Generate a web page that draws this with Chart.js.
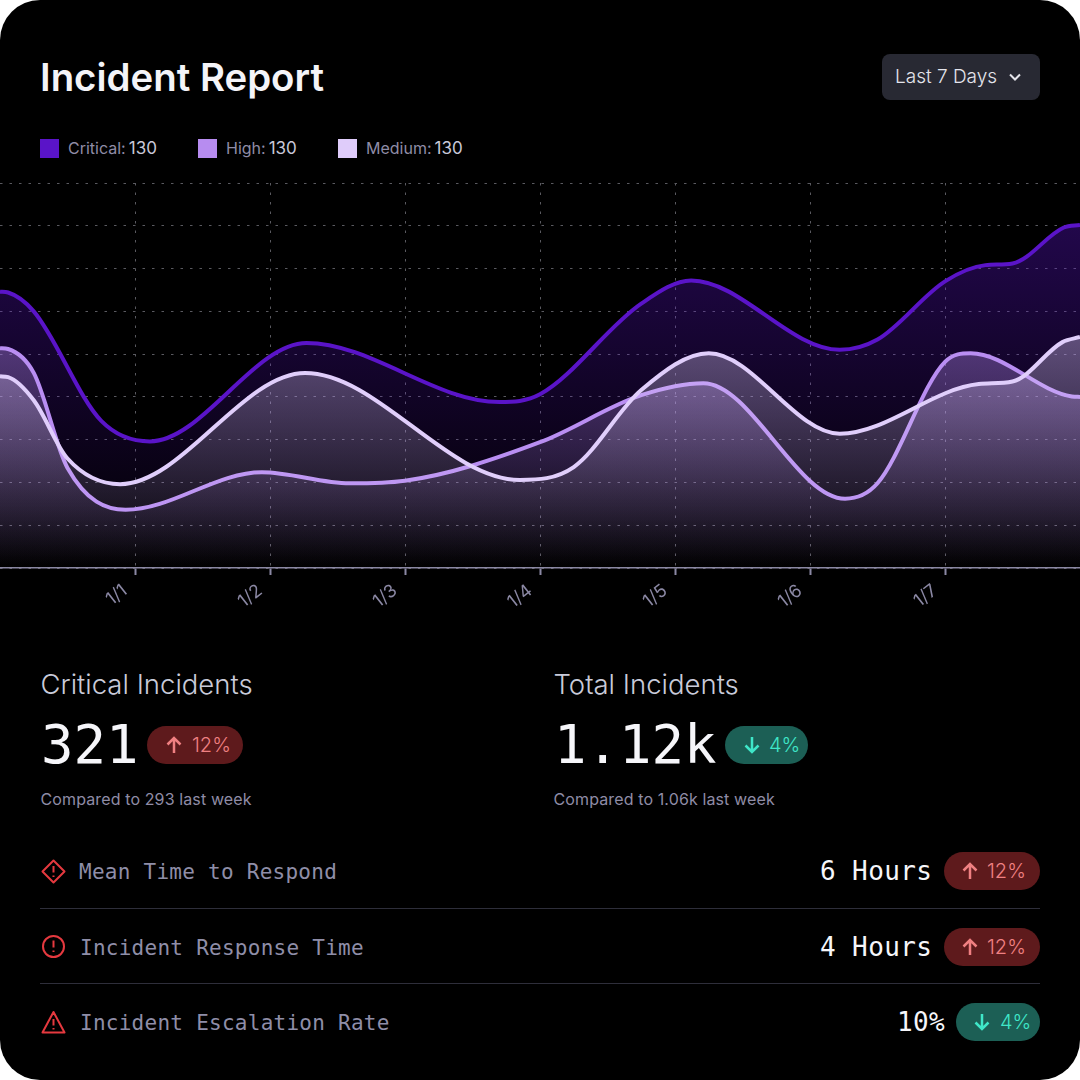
<!DOCTYPE html>
<html>
<head>
<meta charset="utf-8">
<title>Incident Report</title>
<script src="https://cdn.jsdelivr.net/npm/chart.js@4/dist/chart.umd.min.js"></script>
<style>
html,body{margin:0;padding:0;background:#fff;}
#card{position:absolute;left:0;top:0;width:1080px;height:1080px;background:#000;border-radius:40px;overflow:hidden;font-family:Inter,sans-serif;color:#fff;}
#card div{position:absolute;white-space:nowrap;}
#wrap{left:0;top:170px;width:1080px;height:460px;}
.title{left:40px;top:54px;font-size:38.4px;line-height:46px;font-weight:600;color:#f4f4f8;}
.drop{left:882px;top:54px;width:158px;height:46px;background:#282933;border-radius:8px;}
.drop span{position:absolute;left:13px;top:0;line-height:46px;font-size:19px;font-weight:300;color:#e4e4ec;}
.drop svg{position:absolute;left:125px;top:15px;}
.sq{top:139px;width:19px;height:19px;}
.leg{top:136px;font-size:16px;line-height:24px;color:#8f8ca6;}
.leg b{font-weight:400;font-size:17px;color:#c9c8d8;margin-left:3px;}
.head{top:666px;font-size:27.5px;line-height:36px;font-weight:300;color:#c9cbda;}
.big{top:712px;font-family:"DejaVu Sans Mono",monospace;font-size:54px;line-height:66px;color:#f6f6fa;}
.sub{top:787px;font-size:16px;line-height:24px;letter-spacing:.12px;color:#8f8ca6;}
.badge{height:38px;border-radius:19px;font-size:20px;font-weight:300;line-height:38px;}
.badge svg{position:absolute;top:9px;}
.badge span{position:absolute;top:0;}
.up{background:#5e1a1c;color:#f08082;}
.down{background:#1c5f55;color:#3fe6c8;}
.rule{left:40px;width:1000px;height:1px;background:#2e2e3a;}
.rowname{left:79px;font-family:"DejaVu Sans Mono",monospace;font-size:21px;line-height:30px;letter-spacing:.26px;color:#8f8ea8;}
.rowval{font-family:"DejaVu Sans Mono",monospace;font-size:26px;line-height:34px;letter-spacing:.4px;color:#f6f6fa;}
.icon{left:41px;}
</style>
</head>
<body>
<div id="card">
  <div class="title">Incident Report</div>
  <div class="drop"><span>Last 7 Days</span>
    <svg width="16" height="16" viewBox="0 0 16 16"><path d="M3 5.5 L8 10.5 L13 5.5" fill="none" stroke="#e4e4ea" stroke-width="2"/></svg>
  </div>

  <div id="legend"></div>
  <div id="wrap"><canvas id="myChart" width="1080" height="460"></canvas></div>

  <div class="head" style="left:40.5px">Critical Incidents</div>
  <div class="big" style="left:41px">321</div>
  <div class="badge up" style="left:147px;top:726px;width:96px">
    <svg width="20" height="20" viewBox="0 0 20 20" style="left:17px"><path d="M10 18 V3 M3.5 9.5 L10 3 L16.5 9.5" fill="none" stroke="#f08082" stroke-width="2.5"/></svg>
    <span style="left:45px">12%</span>
  </div>
  <div class="sub" style="left:40.5px">Compared to 293 last week</div>

  <div class="head" style="left:553.5px">Total Incidents</div>
  <div class="big" style="left:554px">1.12k</div>
  <div class="badge down" style="left:725px;top:726px;width:83px">
    <svg width="20" height="20" viewBox="0 0 20 20" style="left:17px"><path d="M10 2 V17 M3.5 10.5 L10 17 L16.5 10.5" fill="none" stroke="#3fe6c8" stroke-width="2.5"/></svg>
    <span style="left:44px">4%</span>
  </div>
  <div class="sub" style="left:553.5px">Compared to 1.06k last week</div>

  <svg class="icon" style="position:absolute;top:859px" width="25" height="25" viewBox="0 0 25 25"><path d="M12.5 1.5 L23.5 12.5 L12.5 23.5 L1.5 12.5 Z M12.5 7 V13.5 M12.5 16.5 V18" fill="none" stroke="#e5393f" stroke-width="2" stroke-linejoin="round"/></svg>
  <div class="rowname" style="top:857px">Mean Time to Respond</div>
  <div class="rowval" style="left:820px;top:854px">6 Hours</div>
  <div class="badge up" style="left:944px;top:852px;width:96px">
    <svg width="20" height="20" viewBox="0 0 20 20" style="left:16px"><path d="M10 18 V3 M3.5 9.5 L10 3 L16.5 9.5" fill="none" stroke="#f08082" stroke-width="2.5"/></svg>
    <span style="left:43px">12%</span>
  </div>
  <div class="rule" style="top:908px"></div>

  <svg class="icon" style="position:absolute;top:934px" width="25" height="25" viewBox="0 0 25 25"><circle cx="12.5" cy="12.5" r="10.5" fill="none" stroke="#e5393f" stroke-width="2"/><path d="M12.5 6.5 V13.5 M12.5 16.5 V18" fill="none" stroke="#e5393f" stroke-width="2"/></svg>
  <div class="rowname" style="top:933px;left:80px">Incident Response Time</div>
  <div class="rowval" style="left:820px;top:930px">4 Hours</div>
  <div class="badge up" style="left:944px;top:928px;width:96px">
    <svg width="20" height="20" viewBox="0 0 20 20" style="left:16px"><path d="M10 18 V3 M3.5 9.5 L10 3 L16.5 9.5" fill="none" stroke="#f08082" stroke-width="2.5"/></svg>
    <span style="left:43px">12%</span>
  </div>
  <div class="rule" style="top:983px"></div>

  <svg class="icon" style="position:absolute;top:1010px" width="25" height="25" viewBox="0 0 25 25"><path d="M12.5 2 L23.5 22.5 H1.5 Z M12.5 9 V15.5 M12.5 18 V19.5" fill="none" stroke="#e5393f" stroke-width="2" stroke-linejoin="round"/></svg>
  <div class="rowname" style="top:1008px;left:80px">Incident Escalation Rate</div>
  <div class="rowval" style="left:897px;top:1005px">10%</div>
  <div class="badge down" style="left:956px;top:1003px;width:84px">
    <svg width="20" height="20" viewBox="0 0 20 20" style="left:16px"><path d="M10 2 V17 M3.5 10.5 L10 17 L16.5 10.5" fill="none" stroke="#3fe6c8" stroke-width="2.5"/></svg>
    <span style="left:44px">4%</span>
  </div>
</div>

<script>
const tickLabels = ['','1/1','1/2','1/3','1/4','1/5','1/6','1/7',''];

const criticalDays = [0,0.06,0.25,0.75,1.11,2.27,3.7,4,4.75,5.12,6.22,6.5,7,7.3,7.5,7.88,8];
const critical     = [323,322,300,172,148,263,194,203,309,336,255,267,335,354,356,398,401];

const highDays = [0,0.06,0.25,0.5,0.93,1.94,2.59,3,4,4.75,5.21,6.26,6.5,7,7.19,7.94,8];
const high     = [257,256,228,117,68,112,99,102,147,202,216,81,99,241,251,200.5,200];

const mediumDays = [0,0.06,0.25,0.5,0.89,2.26,3.85,4.25,4.75,5.25,6.22,7.25,7.5,7.87,8];
const medium     = [224,223,196,128,98,228,103,118,208,251,157,215,218,264,270];

const legendNames  = ['Critical','High','Medium'];
const legendValues = [130,130,130];
const legendColors = ['#5a14c8','#b78cf0','#dfccfa'];
const legendSquareX = [40,198,338];

// legend
let legendHtml = '';
legendNames.forEach((name,i)=>{
  legendHtml += '<div class="sq" style="left:'+legendSquareX[i]+'px;background:'+legendColors[i]+'"></div>';
  legendHtml += '<div class="leg" style="left:'+(legendSquareX[i]+28)+'px">'+name+':<b>'+legendValues[i]+'</b></div>';
});
document.getElementById('legend').innerHTML = legendHtml;

function fade(r,g,b,a) {
  return function(context) {
    const area = context.chart.chartArea;
    if (!area) return 'transparent';
    const grad = context.chart.ctx.createLinearGradient(0,area.top,0,area.bottom);
    grad.addColorStop(0,'rgba('+r+','+g+','+b+','+a+')');
    grad.addColorStop(1,'rgba('+r+','+g+','+b+',0)');
    return grad;
  };
}

function series(days,values) {
  return values.map((v,i)=>({x:days[i],y:v}));
}

const gridDash = [2.5,7];
const gridColor = '#5a5a60';

new Chart(document.getElementById('myChart').getContext('2d'), {
  type:'line',
  data:{
    datasets:[
      {label:'Critical',data:series(criticalDays,critical),borderColor:'#5a14c8',backgroundColor:fade(90,20,200,0.42),order:3},
      {label:'High',data:series(highDays,high),borderColor:'#b98ef2',backgroundColor:fade(183,140,240,0.65),order:2},
      {label:'Medium',data:series(mediumDays,medium),borderColor:'#e0cefb',backgroundColor:fade(224,208,250,0.6),order:1}
    ]
  },
  options:{
    responsive:false,
    animation:false,
    layout:{padding:{top:13,left:0,right:0,bottom:0}},
    elements:{
      point:{radius:0},
      line:{borderWidth:4,fill:'origin',cubicInterpolationMode:'monotone'}
    },
    plugins:{legend:{display:false},tooltip:{enabled:false}},
    scales:{
      x:{
        type:'linear',min:0,max:8,
        // no tick at the two edges of the plot
        afterBuildTicks:function(s){s.ticks=s.ticks.filter(t=>t.value>0&&t.value<8);},
        afterFit:function(s){s.height=62;s.paddingLeft=0;s.paddingRight=0;},
        border:{color:'#8b88a4',width:1.5,dash:gridDash},
        grid:{color:gridColor,tickColor:'#8b88a4',tickLength:7,tickBorderDash:[],tickWidth:2},
        ticks:{
          stepSize:1,minRotation:38,maxRotation:38,padding:5,labelOffset:-10,color:'#8b88a4',
          font:{family:'Inter',size:18,weight:400},
          callback:function(v){return tickLabels[v];}
        }
      },
      y:{
        min:0,max:450,
        afterFit:function(s){s.width=0;},
        border:{display:false,dash:gridDash},
        grid:{color:gridColor,drawTicks:false},
        ticks:{display:false,stepSize:50}
      }
    }
  }
});
</script>
</body>
</html>
